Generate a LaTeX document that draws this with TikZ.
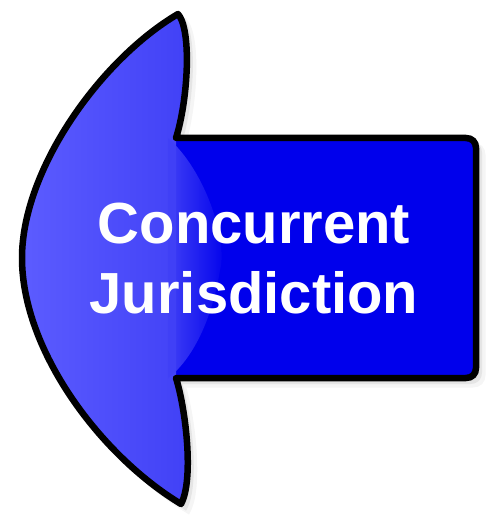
\documentclass[tikz,border=0pt]{standalone}
\usepackage{fontspec}
\setmainfont{Liberation Sans}
\usetikzlibrary{fadings}
\definecolor{shaftblue}{RGB}{0,0,236}
\definecolor{headlight}{RGB}{92,92,255}
\definecolor{headmid}{RGB}{64,64,246}
\newcommand\arrowshape[1]{%
  \path[#1] (178,14) .. controls (192,30) and (188,100) .. (176,138)
    -- (466,138) .. controls (472,138) and (476,142) .. (476,148)
    -- (476,368) .. controls (476,374) and (472,378) .. (466,378)
    -- (176,378) .. controls (186,410) and (194,480) .. (181,504)
    .. controls (100,455) and (22,350) .. (22,258)
    .. controls (22,170) and (100,60) .. (178,14) -- cycle;}
\tikzset{
  lbl/.style={text=white, font=\bfseries\fontsize{58}{58}\selectfont, anchor=base, inner sep=0pt},
  outline/.style={draw=black, line width=6.5pt, line join=round}
}
\begin{document}
\begin{tikzpicture}[x=1pt,y=-1pt]
\useasboundingbox (0,0) rectangle (487,518);
% soft shadow
\arrowshape{fill=black!6, xshift=7pt, yshift=-7pt, line width=5pt, draw=black!4}
\arrowshape{fill=black!12, xshift=4.5pt, yshift=-4.5pt, line width=3pt, draw=black!10}
% main body
\arrowshape{fill=shaftblue}
% light head
\path[left color=headlight, right color=headmid]
  (178,14) .. controls (192,30) and (188,100) .. (176,138)
  -- (176,378) .. controls (186,410) and (194,480) .. (181,504)
  .. controls (100,455) and (22,350) .. (22,258)
  .. controls (22,170) and (100,60) .. (178,14) -- cycle;
% soft bulge into the shaft
\fill[headmid, path fading=east]
  (168,138) .. controls (205,170) and (228,240) .. (220,270)
  .. controls (212,320) and (192,360) .. (168,378) -- cycle;
% outline
\arrowshape{outline}
% text
\node[lbl] (t1) at (254,243) {Concurrent};
\node[lbl] (t2) at (254,313) {Jurisdiction};
\end{tikzpicture}
\end{document}
